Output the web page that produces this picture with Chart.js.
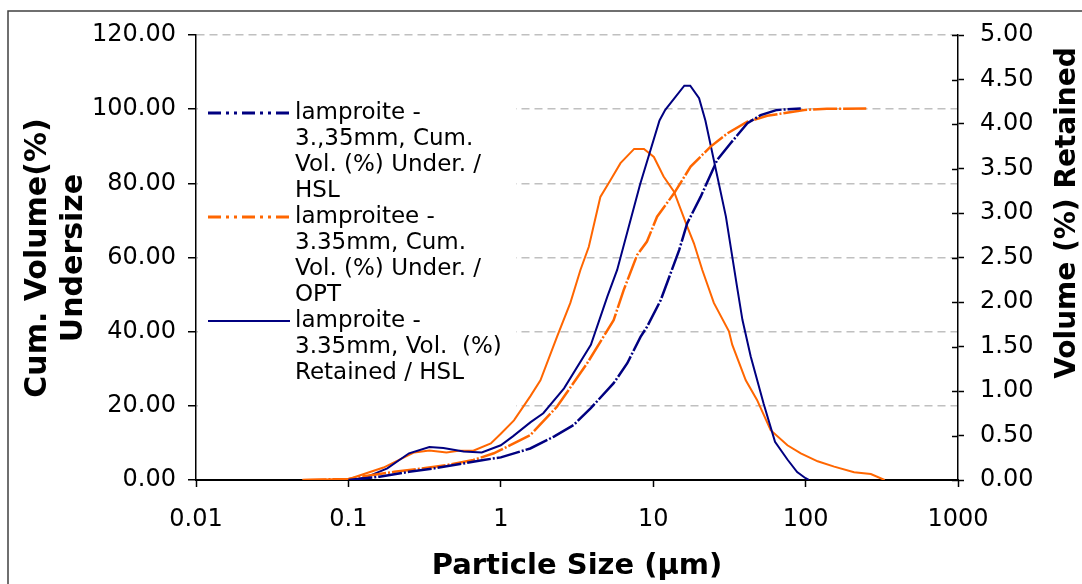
<!DOCTYPE html>
<html>
<head>
<meta charset="utf-8">
<script src="https://cdn.jsdelivr.net/npm/chart.js@4"></script>
<style>
body { margin: 0; background: #fff; }
#wrap { width: 1082px; height: 584px; position: relative; }
</style>
</head>
<body>
<div id="wrap"><canvas id="chart"></canvas></div>
<script>
// values, particle size in µm
const hslCumSize = [0.1, 0.16, 0.25, 0.36, 0.54, 0.77, 1.0, 1.56, 2.23, 3.0, 3.88, 5.5, 6.76, 8.26, 9.1, 11.2, 13.0, 14.8, 16.7, 20.5, 26.3, 32.2, 41.5, 50.7, 65, 93];
const hslCumValue = [0, 0.9, 2.2, 3.1, 4.3, 5.4, 6.1, 8.5, 11.7, 14.8, 19.3, 26.1, 31.5, 38.6, 41.3, 48.5, 55.7, 62.0, 69.2, 76.4, 86.3, 90.8, 96.2, 98.4, 99.8, 100.2];

const optCumSize = [0.05, 0.1, 0.12, 0.2, 0.3, 0.44, 0.66, 0.9, 1.0, 1.56, 2.34, 3.69, 5.5, 6.4, 7.85, 9.1, 10.6, 13.7, 17.6, 23.8, 30.7, 41.5, 56, 98, 138, 250];
const optCumValue = [0, 0.3, 0.9, 2.2, 3.1, 4.0, 5.4, 7.2, 8.1, 12.1, 19.8, 31.5, 43.1, 51.2, 60.7, 64.3, 71.0, 77.3, 84.5, 89.9, 93.5, 96.6, 98.2, 99.8, 100.1, 100.2];

const hslRetSize = [0.11, 0.13, 0.18, 0.25, 0.34, 0.42, 0.57, 0.75, 1.0, 1.2, 1.57, 1.9, 2.6, 3.9, 5.0, 5.8, 8.2, 11, 12, 16, 17.5, 20, 22, 30, 35.5, 38.5, 43.6, 53, 63, 76, 88, 100, 105];
const hslRetValue = [0, 0.03, 0.13, 0.30, 0.37, 0.36, 0.32, 0.31, 0.39, 0.49, 0.65, 0.75, 1.03, 1.52, 2.06, 2.36, 3.32, 4.04, 4.16, 4.43, 4.43, 4.29, 4.04, 2.96, 2.17, 1.80, 1.39, 0.86, 0.43, 0.23, 0.09, 0.02, 0];

const optRetSize = [0.05, 0.1, 0.113, 0.17, 0.27, 0.34, 0.44, 0.54, 0.66, 0.86, 1.0, 1.22, 1.56, 1.82, 2.34, 2.86, 3.33, 3.78, 4.5, 5.25, 6.1, 7.5, 8.7, 10.1, 11.7, 13.7, 16.7, 18.5, 21, 25, 31.4, 33, 40.5, 48, 59, 76, 93, 120, 154, 208, 268, 330];
const optRetValue = [0, 0.01, 0.04, 0.14, 0.31, 0.33, 0.31, 0.33, 0.33, 0.41, 0.52, 0.67, 0.94, 1.12, 1.61, 1.99, 2.36, 2.62, 3.18, 3.37, 3.56, 3.72, 3.72, 3.63, 3.41, 3.24, 2.85, 2.66, 2.36, 1.99, 1.67, 1.52, 1.12, 0.90, 0.56, 0.39, 0.30, 0.21, 0.15, 0.087, 0.067, 0];

const xTicks = [0.01, 0.1, 1, 10, 100, 1000];
const legendText = [
    ['lamproite -', '3.,35mm, Cum.', 'Vol. (%) Under. /', 'HSL'],
    ['lamproitee -', '3.35mm, Cum.', 'Vol. (%) Under. /', 'OPT'],
    ['lamproite -', '3.35mm, Vol.  (%)', 'Retained / HSL']
];
const leftTitle = ['Cum. Volume(%)', 'Undersize'];
const rightTitle = 'Volume (%) Retained';
const xTitle = 'Particle Size (µm)';

const NAVY = '#000080';
const ORANGE = '#ff6600';
const CUM_DASH = [24, 2, 2, 2];
const FONT = '"DejaVu Sans", Verdana, sans-serif';

function points(xs, ys) {
    return xs.map((x, i) => ({ x: x, y: ys[i] }));
}

//Frame, legend, axis titles and inner ticks of the right axis
const decor = {
    id: 'decor',
    afterDraw(chart) {
        const ctx = chart.ctx;
        ctx.save();

        ctx.strokeStyle = '#404040';
        ctx.lineWidth = 1.5;
        ctx.beginPath();
        ctx.moveTo(8, 584);
        ctx.lineTo(8, 11);
        ctx.lineTo(1082, 11);
        ctx.stroke();

        // right axis ticks cross the axis line
        const y2 = chart.scales.y2;
        ctx.strokeStyle = '#000';
        ctx.lineWidth = 1.5;
        for (let v = 0; v <= 5.0001; v += 0.5) {
            const py = Math.round(y2.getPixelForValue(v)) + 0.5;
            ctx.beginPath();
            ctx.moveTo(y2.left - 6, py);
            ctx.lineTo(y2.left, py);
            ctx.stroke();
        }

        // legend
        ctx.fillStyle = '#fff';
        ctx.fillRect(198, 88, 318, 324);
        const styles = [
            { color: NAVY, width: 3, dash: [13, 5, 3, 5, 3, 5] },
            { color: ORANGE, width: 3, dash: [13, 5, 3, 5, 3, 5] },
            { color: NAVY, width: 2, dash: [] }
        ];
        ctx.font = '23px ' + FONT;
        ctx.textBaseline = 'middle';
        ctx.textAlign = 'left';
        let line = 0;
        legendText.forEach((lines, i) => {
            const y = 113 + line * 26;
            ctx.strokeStyle = styles[i].color;
            ctx.lineWidth = styles[i].width;
            ctx.setLineDash(styles[i].dash);
            ctx.beginPath();
            ctx.moveTo(208, y);
            ctx.lineTo(290, y);
            ctx.stroke();
            ctx.setLineDash([]);
            ctx.fillStyle = '#000';
            lines.forEach((t, j) => ctx.fillText(t, 295, 113 + (line + j) * 26));
            line += lines.length;
        });

        // axis titles
        ctx.fillStyle = '#000';
        ctx.textAlign = 'center';
        ctx.font = 'bold 29px ' + FONT;
        ctx.fillText(xTitle, 577, 566);

        ctx.save();
        ctx.font = 'bold 30px ' + FONT;
        ctx.translate(38, 258);
        ctx.rotate(-Math.PI / 2);
        ctx.fillText(leftTitle[0], 0, 0);
        ctx.fillText(leftTitle[1], 0, 36);
        ctx.restore();

        ctx.save();
        ctx.font = 'bold 28px ' + FONT;
        ctx.translate(1068, 213);
        ctx.rotate(-Math.PI / 2);
        ctx.fillText(rightTitle, 0, 0);
        ctx.restore();

        ctx.restore();
    }
};

const context = document.getElementById('chart').getContext('2d');
const chart = new Chart(context, {
    type: 'line',
    data: {
        datasets: [
            {
                label: legendText[0].join(' '),
                data: points(hslCumSize, hslCumValue),
                borderColor: NAVY,
                borderWidth: 2.5,
                borderDash: CUM_DASH,
                yAxisID: 'y'
            },
            {
                label: legendText[1].join(' '),
                data: points(optCumSize, optCumValue),
                borderColor: ORANGE,
                borderWidth: 2.5,
                borderDash: CUM_DASH,
                yAxisID: 'y'
            },
            {
                label: legendText[2].join(' '),
                data: points(hslRetSize, hslRetValue),
                borderColor: NAVY,
                borderWidth: 2,
                yAxisID: 'y2'
            },
            {
                label: 'lamproite - 3.35mm, Vol. (%) Retained / OPT',
                data: points(optRetSize, optRetValue),
                borderColor: ORANGE,
                borderWidth: 2,
                yAxisID: 'y2'
            }
        ]
    },
    options: {
        responsive: true,
        maintainAspectRatio: false,
        animation: false,
        devicePixelRatio: 1,
        layout: { padding: { top: 35, left: 0, right: 0, bottom: 0 } },
        elements: { point: { radius: 0 }, line: { tension: 0, fill: false } },
        plugins: { legend: { display: false }, tooltip: { enabled: false } },
        scales: {
            x: {
                type: 'logarithmic',
                min: 0.01,
                max: 1000,
                afterBuildTicks: scale => { scale.ticks = xTicks.map(v => ({ value: v })); },
                afterFit: scale => { scale.height = 104; },
                ticks: {
                    autoSkip: false,
                    maxRotation: 0,
                    padding: 18,
                    color: '#000',
                    font: { family: FONT, size: 24 },
                    callback: v => String(v)
                },
                grid: { drawOnChartArea: false, tickLength: 7, tickColor: '#000', tickWidth: 1.5 },
                border: { color: '#000', width: 2 }
            },
            y: {
                position: 'left',
                min: 0,
                max: 120,
                afterFit: scale => { scale.width = 196; },
                ticks: {
                    stepSize: 20,
                    padding: 12,
                    color: '#000',
                    font: { family: FONT, size: 24 },
                    callback: v => v.toFixed(2)
                },
                grid: {
                    color: c => (c.tick && c.tick.value === 0) ? 'rgba(0,0,0,0)' : '#c0c0c0',
                    lineWidth: 1.5,
                    tickLength: 8,
                    tickColor: '#000',
                    tickWidth: 1.5
                },
                border: { color: '#000', width: 1.5, dash: [8, 5] }
            },
            y2: {
                position: 'right',
                min: 0,
                max: 5,
                afterFit: scale => { scale.width = 124; },
                ticks: {
                    stepSize: 0.5,
                    padding: 16,
                    color: '#000',
                    font: { family: FONT, size: 24 },
                    callback: v => v.toFixed(2)
                },
                grid: { drawOnChartArea: false, tickLength: 6, tickColor: '#000', tickWidth: 1.5 },
                border: { color: '#000', width: 1.5 }
            }
        }
    },
    plugins: [decor]
});
</script>
</body>
</html>
